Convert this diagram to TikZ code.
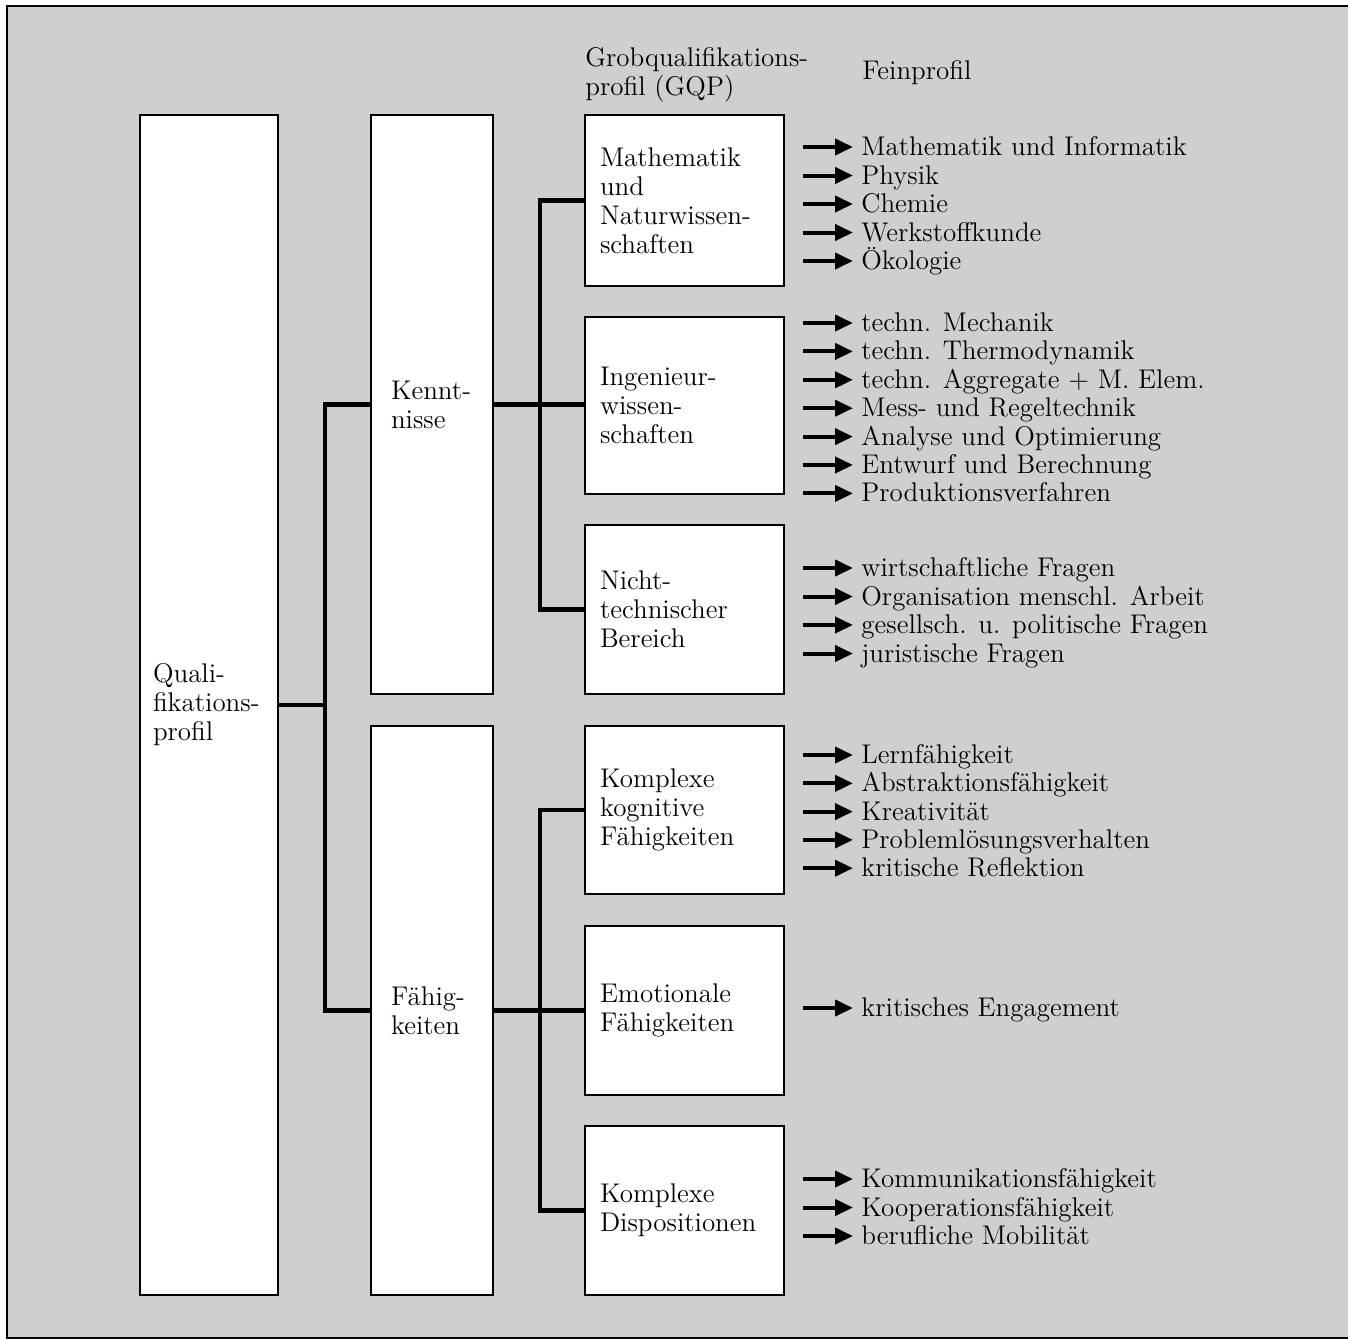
\documentclass[tikz,border=0pt]{standalone}
\usepackage{fontspec}
\usetikzlibrary{arrows.meta}

\begin{document}
\begin{tikzpicture}[x=0.5pt,y=-0.5pt,
    font=\fontsize{13.5pt}{14.5pt}\selectfont,
    box/.style={draw,fill=white,line width=1pt,inner ysep=0pt,align=left},
    gqp/.style={box,minimum width=99.5pt,text width=84.5pt,inner xsep=7.5pt},
    link/.style={line width=2.2pt},
    feed/.style={-{Triangle[length=9pt,width=8pt]},line width=2pt},
    item/.style={anchor=west,inner xsep=4pt,inner ysep=0pt,text height=8.5pt,text depth=0pt}]

      \clip (0,0) rectangle (1348,1340);
      \draw[line width=1pt,fill=black!19] (7,6) rectangle (1370,1338);

      % headings
      \node[anchor=west,inner sep=0pt,align=left] (grob) at (585,75) {Grobqualifikations-\\profil (GQP)};
      \node[anchor=west,inner sep=0pt,text height=8.5pt,text depth=0pt] (fein) at (862,71) {Feinprofil};

      % boxes
      \node[box,minimum width=69pt,minimum height=590pt,text width=56pt,inner xsep=6.5pt] (quali) at (209,705) {Quali-\\fikations-\\profil};
      \node[box,minimum width=61pt,minimum height=289.5pt,text width=41pt,inner xsep=10pt] (kenn) at (432,404.5) {Kennt-\\nisse};
      \node[box,minimum width=61pt,minimum height=284.5pt,text width=41pt,inner xsep=10pt] (faeh) at (432,1010.5) {Fähig-\\keiten};

      \node[gqp,minimum height=85.5pt] (math) at (684.5,200.5) {Mathematik\\und\\Naturwissen-\\schaften};
      \node[gqp,minimum height=88.5pt] (ing) at (684.5,405.5) {Ingenieur-\\wissen-\\schaften};
      \node[gqp,minimum height=84.5pt] (nicht) at (684.5,609.5) {Nicht-\\technischer\\Bereich};
      \node[gqp,minimum height=84pt] (kogn) at (684.5,810) {Komplexe\\kognitive\\Fähigkeiten};
      \node[gqp,minimum height=84.5pt] (emo) at (684.5,1010.5) {Emotionale\\Fähigkeiten};
      \node[gqp,minimum height=84.5pt] (disp) at (684.5,1210.5) {Komplexe\\Dispositionen};

      % tree
      \coordinate (qj) at (325,705);
      \coordinate (kj) at (540,405);
      \coordinate (fj) at (540,1010);

      \draw[link] (quali.east) -- (qj);
      \draw[link] (kenn.west) -| (qj) |- (faeh.west);
      \draw[link] (kenn.east) -- (kenn.east -| ing.west);
      \draw[link] (math.west) -| (kj) |- (nicht.west);
      \draw[link] (faeh.east) -- (faeh.east -| emo.west);
      \draw[link] (kogn.west) -| (fj) |- (disp.west);

      % feinprofil
      \foreach \lbl [count=\i] in {Mathematik und Informatik,Physik,Chemie,Werkstoffkunde,Ökologie}{
        \node[item] (ma\i) at (853,{147+28.5*(\i-1)}) {\lbl};
        \coordinate (sa\i) at (803,{147+28.5*(\i-1)});
        \draw[feed] (sa\i) -- (ma\i.west);
      }
      \foreach \lbl [count=\i] in {techn. Mechanik,techn. Thermodynamik,techn. Aggregate + M. Elem.,Mess- und Regeltechnik,Analyse und Optimierung,Entwurf und Berechnung,Produktionsverfahren}{
        \node[item] (in\i) at (853,{323+28.4*(\i-1)}) {\lbl};
        \coordinate (si\i) at (803,{323+28.4*(\i-1)});
        \draw[feed] (si\i) -- (in\i.west);
      }
      \foreach \lbl [count=\i] in {wirtschaftliche Fragen,Organisation menschl. Arbeit,gesellsch. u. politische Fragen,juristische Fragen}{
        \node[item] (nt\i) at (853,{568+28.5*(\i-1)}) {\lbl};
        \coordinate (sn\i) at (803,{568+28.5*(\i-1)});
        \draw[feed] (sn\i) -- (nt\i.west);
      }
      \foreach \lbl [count=\i] in {Lernfähigkeit,Abstraktionsfähigkeit,Kreativität,Problemlösungsverhalten,kritische Reflektion}{
        \node[item] (ko\i) at (853,{755+28.3*(\i-1)}) {\lbl};
        \coordinate (sk\i) at (803,{755+28.3*(\i-1)});
        \draw[feed] (sk\i) -- (ko\i.west);
      }
      \node[item] (em1) at (853,1008) {kritisches Engagement};
      \coordinate (se1) at (803,1008);
      \draw[feed] (se1) -- (em1.west);
      \foreach \lbl [count=\i] in {Kommunikationsfähigkeit,Kooperationsfähigkeit,berufliche Mobilität}{
        \node[item] (di\i) at (853,{1179+28.5*(\i-1)}) {\lbl};
        \coordinate (sd\i) at (803,{1179+28.5*(\i-1)});
        \draw[feed] (sd\i) -- (di\i.west);
      }
    \end{tikzpicture}
\end{document}
